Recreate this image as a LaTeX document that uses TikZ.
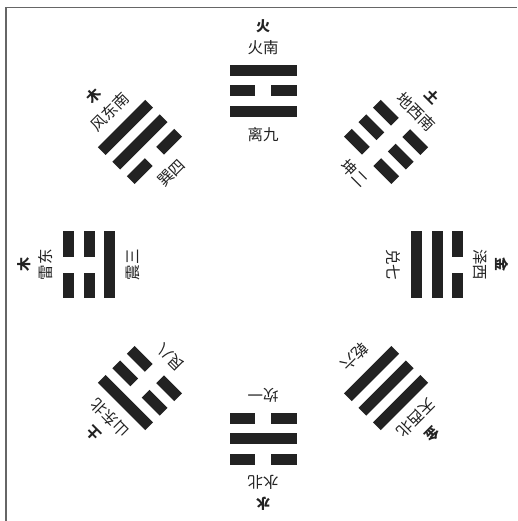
\documentclass[tikz,border=0pt]{standalone}
\usepackage{fontspec}
\newfontfamily\cjk{Noto Sans CJK SC}
\definecolor{ink}{HTML}{222222}
\definecolor{frame}{HTML}{666666}
\tikzset{
  bar/.style={fill=ink},
  nm/.style={text=ink, font=\cjk\fontsize{15.5}{16}\selectfont, inner sep=0pt},
  el/.style={text=ink, font=\cjk\bfseries\fontsize{14}{14}\selectfont, inner sep=0pt},
}
\newcommand\yao[2]{%
  \ifnum#1=1
    \fill[bar] (-33.5,#2-5.5) rectangle (33.5,#2+5.5);
  \else
    \fill[bar] (-33.5,#2-5.5) rectangle (-8,#2+5.5);
    \fill[bar] (8,#2-5.5) rectangle (33.5,#2+5.5);
  \fi}
% #1 angle, #2 #3 #4 lines (bottom, middle, top), #5 name, #6 nature+direction, #7 element, #8 id
\newcommand\bagua[8]{%
  \begin{scope}[shift={(263,256)}, rotate=#1]
    \yao{#2}{153.5}
    \yao{#3}{174}
    \yao{#4}{194.5}
    \node[nm, rotate=#1] (#8-name) at (0,130) {#5};
    \node[nm, rotate=#1] (#8-dir) at (0,217) {#6};
    \node[el, rotate=#1] (#8-el) at (0,239) {#7};
  \end{scope}}
\begin{document}
\begin{tikzpicture}[x=1pt,y=1pt]
\useasboundingbox (0,0) rectangle (517,521);
\draw[frame, line width=1.6pt] (6,0) -- (6,513.5) -- (517,513.5);
\bagua{0}{1}{0}{1}{离九}{火南}{火}{li}
\bagua{-45}{0}{0}{0}{坤二}{地西南}{土}{kun}
\bagua{-90}{1}{1}{0}{兑七}{泽西}{金}{dui}
\bagua{-135}{1}{1}{1}{乾六}{天西北}{金}{qian}
\bagua{180}{0}{1}{0}{坎一}{水北}{水}{kan}
\bagua{135}{0}{0}{1}{艮八}{山东北}{土}{gen}
\bagua{90}{1}{0}{0}{震三}{雷东}{木}{zhen}
\bagua{45}{0}{1}{1}{巽四}{风东南}{木}{xun}
\end{tikzpicture}
\end{document}
